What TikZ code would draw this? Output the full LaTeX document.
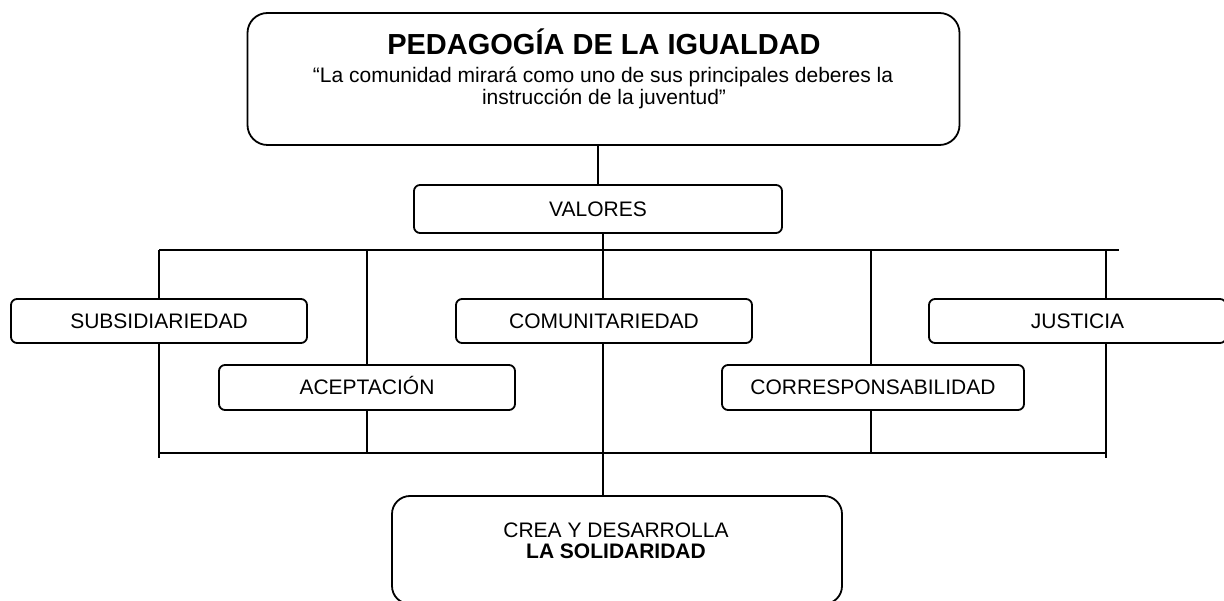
\documentclass[tikz,border=0pt]{standalone}
\usepackage{fontspec}
\setmainfont{Liberation Sans}
\usetikzlibrary{backgrounds}
\begin{document}
\begin{tikzpicture}[x=1pt,y=-1pt,
  box/.style={draw, line width=1.8pt, fill=white, rounded corners=6pt, inner sep=0pt, text height=15pt, text depth=0pt, font=\fontsize{21}{23}\selectfont},
  link/.style={line width=1.8pt},
  txt/.style={inner sep=0pt, anchor=base, font=\fontsize{21}{23}\selectfont},
  btxt/.style={txt, font=\fontsize{21}{23}\selectfont\bfseries},
  ttl/.style={txt, font=\fontsize{29}{32}\selectfont\bfseries}]
\useasboundingbox (0,0) rectangle (1224,601);
% top box
\node[box, rounded corners=20pt, minimum width=712pt, minimum height=132pt] (top) at (603.5,79) {};
\node[ttl] (title) at (604,55) {PEDAGOGÍA DE LA IGUALDAD};
\node[txt] (q1) at (603,83) {“La comunidad mirará como uno de sus principales deberes la};
\node[txt] (q2) at (604,105) {instrucción de la juventud”};
% valores
\node[box, minimum width=368pt, minimum height=48pt] (val) at (598,209) {VALORES};
% first row
\node[box, minimum width=296pt, minimum height=44pt] (sub) at (159,321) {SUBSIDIARIEDAD};
\node[box, minimum width=296pt, minimum height=44pt] (com) at (604,321) {COMUNITARIEDAD};
\node[box, minimum width=297pt, minimum height=44pt] (jus) at (1077.5,321) {JUSTICIA};
% second row
\node[box, minimum width=296pt, minimum height=45pt] (ace) at (367,387.5) {ACEPTACIÓN};
\node[box, minimum width=302pt, minimum height=45pt] (cor) at (873,387.5) {CORRESPONSABILIDAD};
% bottom box
\node[box, rounded corners=18pt, minimum width=450pt, minimum height=108pt] (sol) at (617,550) {};
\node[txt] (s1) at (616,537) {CREA Y DESARROLLA};
\node[btxt] (s2) at (616,558) {LA SOLIDARIDAD};
% junction coordinates
\coordinate (hl) at (159,250);
\coordinate (hr) at (1119,250);
\coordinate (hub) at (603,250);
\coordinate (lb) at (159,458);
\coordinate (bl) at (159,453);
\coordinate (br) at (1106,453);
\coordinate (ct) at (871,250);
\coordinate (cb) at (871,453);
\coordinate (jt) at (1106,250);
\coordinate (jb) at (1106,458);
\begin{scope}[on background layer]
  \fill[white] (0,0) rectangle (1224,601);
  \draw[link] (val.north |- top.south) -- (val.north);
  \draw[link] (hub |- val.south) -- (hub);
  \draw[link] (hl) -- (hr);
  \draw[link] (hl) -- (lb);
  \draw[link] (ace |- hl) -- (ace |- bl);
  \draw[link] (hub) -- (hub |- sol.north);
  \draw[link] (ct) -- (cb);
  \draw[link] (jt) -- (jb);
  \draw[link] (bl) -- (br);
\end{scope}
\end{tikzpicture}
\end{document}
